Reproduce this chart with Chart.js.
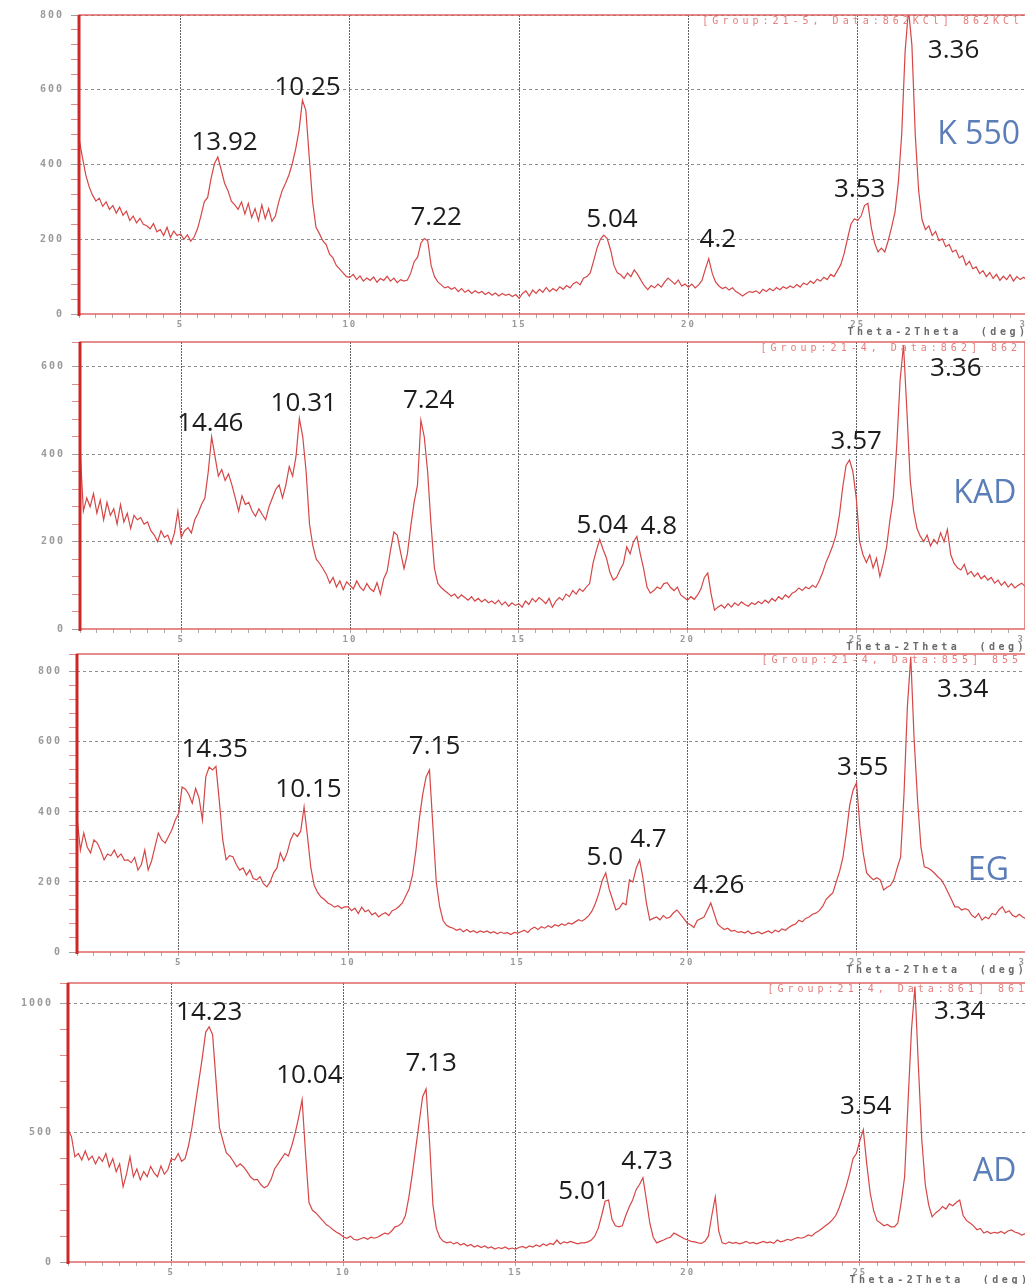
<!DOCTYPE html>
<html>
<head>
<meta charset="utf-8">
<script src="https://cdn.jsdelivr.net/npm/chart.js@4.4.0/dist/chart.umd.min.js"></script>
<style>
  html, body { margin: 0; padding: 0; background: #fff; width: 1025px; height: 1284px; overflow: hidden; }
  canvas { position: absolute; left: 0; }
</style>
</head>
<body>
<canvas id="k550-chart"></canvas>
<canvas id="kad-chart"></canvas>
<canvas id="eg-chart"></canvas>
<canvas id="ad-chart"></canvas>
<script>
// 2theta step scan, 2.0 .. 30.0 deg, 0.1 deg step
const twoTheta = [];
for (let i = 0; i <= 280; i++) {
  twoTheta.push(Math.round((2 + i * 0.1) * 10) / 10);
}

// counts, one row per degree (n.0 .. n.9)
const k550Counts = [
  470, 420, 372, 340, 318, 302, 310, 288, 300, 280,
  290, 270, 286, 264, 275, 250, 262, 244, 256, 240,
  236, 228, 242, 220, 226, 210, 232, 205, 222, 210,
  214, 200, 212, 195, 206, 228, 262, 300, 312, 362,
  402, 420, 386, 350, 330, 302, 292, 280, 300, 268,
  296, 258, 282, 250, 292, 255, 282, 248, 262, 300,
  330, 350, 372, 402, 442, 492, 572, 545, 420, 300,
  232, 215, 196, 186, 160, 150, 130, 120, 110, 100,
  98, 106, 92, 102, 88, 96, 90, 99, 85, 95,
  90, 101, 88, 96, 84, 92, 88, 91, 110, 140,
  152, 190, 202, 196, 130, 100, 86, 78, 70, 73,
  66, 71, 60, 68, 58, 64, 55, 62, 56, 60,
  52, 58, 50, 56, 48, 55, 50, 53, 47, 52,
  42, 55, 62, 48, 64, 55, 66, 58, 71, 60,
  68, 62, 73, 66, 76, 70, 81, 86, 78, 96,
  100, 110, 142, 176, 200, 211, 202, 172, 130, 110,
  105, 95, 110, 100, 118, 106, 90, 75, 65, 76,
  70, 80, 72, 86, 96, 88, 80, 91, 75, 80,
  72, 80, 70, 78, 90, 120, 148, 110, 86, 75,
  68, 72, 64, 70, 60, 55, 48, 55, 60, 58,
  62, 55, 66, 60, 68, 62, 71, 65, 73, 68,
  75, 70, 79, 72, 83, 78, 88, 82, 93, 88,
  98, 92, 106, 100, 116, 132, 162, 202, 240, 255,
  250, 262, 290, 296, 232, 190, 166, 176, 166, 196,
  232, 272, 352, 482, 702, 815, 720, 480, 330, 252,
  226, 236, 210, 221, 196, 201, 180, 186, 166, 171,
  150, 156, 131, 141, 121, 126, 108, 116, 100, 111,
  95, 106, 90, 101, 92, 105, 88, 100, 92, 98,
  90
];

const kadCounts = [
  415, 270, 300, 280, 310, 265, 295, 250, 290, 260,
  275, 240, 285, 245, 265, 230, 260, 250, 255, 240,
  245, 225, 215, 200, 225, 210, 215, 195, 220, 270,
  210, 225, 232, 220, 250, 265, 285, 300, 360, 440,
  395, 350, 365, 340, 355, 330, 300, 270, 305, 285,
  290, 270, 258, 275, 262, 250, 280, 300, 320, 330,
  300, 330, 372, 350, 395, 482, 440, 360, 240, 190,
  160, 150, 138, 125, 105, 118, 96, 110, 90, 108,
  100, 92, 110, 96, 88, 104, 92, 86, 106, 80,
  115, 132, 180, 222, 215, 175, 138, 172, 235, 290,
  330, 478, 440, 360, 240, 140, 105, 95, 88, 82,
  75, 80, 70, 78, 72, 66, 74, 64, 70, 62,
  68, 60, 64, 58, 66, 55, 62, 52, 60, 54,
  58, 50, 64, 56, 70, 62, 72, 66, 58, 70,
  50, 64, 72, 66, 80, 74, 88, 80, 92, 86,
  96, 104, 150, 180, 205, 182, 162, 130, 112, 118,
  135, 150, 188, 172, 200, 212, 172, 138, 96, 82,
  88, 96, 92, 104, 106, 95, 88, 96, 78, 72,
  66, 74, 68, 78, 92, 118, 128, 80, 43, 50,
  55, 48, 58, 50, 60, 54, 62, 56, 52, 60,
  56, 63, 58, 66, 60, 70, 64, 74, 68, 78,
  72, 82, 86, 94, 88, 96, 92, 100, 95, 110,
  128, 152, 170, 190, 215, 260, 325, 375, 387, 360,
  300, 200, 170, 152, 170, 140, 162, 120, 150, 188,
  250, 302, 420, 570, 650, 500, 340, 270, 230, 212,
  200, 215, 190, 205, 195, 220, 200, 228, 170, 150,
  140, 135, 148, 125, 132, 120, 128, 115, 122, 112,
  118, 105, 112, 100, 108, 96, 104, 94, 100, 105,
  98
];

const egCounts = [
  386, 291, 340, 300, 283, 320, 311, 290, 263, 280,
  275, 291, 270, 280, 262, 263, 255, 270, 234, 250,
  291, 234, 260, 300, 340, 320, 311, 330, 349, 377,
  396, 471, 465, 450, 425, 467, 440, 377, 500, 528,
  520, 530, 430, 320, 263, 275, 272, 250, 234, 240,
  220, 234, 210, 206, 215, 195, 186, 200, 226, 240,
  283, 260, 283, 320, 340, 330, 345, 414, 330, 240,
  190, 170, 157, 150, 140, 135, 128, 132, 125, 129,
  129, 118, 125, 110, 128, 115, 120, 106, 112, 100,
  108, 112, 104, 118, 122, 130, 140, 160, 180, 220,
  290, 380, 450, 500, 520, 360, 200, 130, 90, 76,
  71, 68, 62, 66, 58, 64, 57, 61, 55, 60,
  56, 60, 54, 58, 52, 57, 53, 55, 50, 56,
  54, 58, 62, 56, 66, 71, 64, 72, 68, 75,
  70, 78, 74, 80, 76, 83, 80, 86, 92, 88,
  95, 104, 118, 140, 169, 205, 226, 180, 150, 120,
  125, 140, 135, 206, 200, 240, 263, 210, 140, 91,
  96, 100, 92, 104, 96, 100, 112, 120, 108, 96,
  83, 78, 70, 90, 95, 100, 120, 140, 110, 80,
  71, 64, 68, 60, 62, 56, 58, 54, 60, 52,
  54, 58, 52, 56, 60, 54, 62, 58, 66, 62,
  70, 76, 80, 91, 86, 96, 100, 108, 111, 118,
  130, 150, 160, 169, 200, 230, 271, 340, 420, 463,
  483, 357, 280, 226, 215, 206, 212, 206, 177, 185,
  190, 206, 240, 271, 450, 700, 843, 606, 434, 300,
  243, 240, 234, 225, 215, 206, 190, 170, 150, 129,
  129, 120, 124, 120, 105, 98, 110, 91, 100, 95,
  110, 106, 120, 129, 112, 118, 105, 100, 108, 100,
  95
];

const adCounts = [
  512, 486, 407, 420, 395, 430, 395, 410, 380, 407,
  390, 420, 368, 400, 350, 380, 291, 340, 407, 330,
  360, 318, 350, 330, 370, 345, 330, 372, 340, 357,
  400, 395, 420, 390, 400, 450, 520, 610, 700, 790,
  890, 911, 880, 700, 520, 470, 422, 410, 390, 368,
  380, 368, 350, 330, 318, 320, 300, 287, 295, 320,
  360, 380, 400, 420, 410, 450, 500, 560, 628, 420,
  230, 200, 190, 175, 160, 145, 136, 125, 115, 108,
  97, 92, 100, 88, 85, 90, 95, 88, 96, 92,
  97, 104, 112, 108, 120, 136, 140, 151, 180, 250,
  340, 440, 540, 640, 670, 470, 220, 130, 95, 80,
  74, 78, 70, 76, 66, 72, 62, 68, 58, 64,
  56, 62, 54, 58, 50, 56, 52, 58, 50, 54,
  50, 56, 60, 54, 62, 58, 66, 60, 70, 64,
  72, 68, 85, 70, 78, 74, 80, 75, 70, 74,
  74, 78, 85, 100, 130, 180, 235, 240, 165, 140,
  136, 140, 180, 213, 240, 279, 300, 326, 240, 150,
  95, 74, 80, 85, 92, 96, 112, 105, 98, 90,
  85, 80, 78, 74, 72, 80, 100, 180, 252, 120,
  74, 70, 78, 72, 76, 70, 74, 80, 72, 76,
  70, 75, 80, 74, 78, 72, 85, 78, 82, 88,
  84, 90, 95, 92, 97, 105, 100, 112, 120, 130,
  140, 150, 163, 180, 210, 250, 291, 340, 400, 420,
  470, 512, 380, 267, 200, 160, 151, 140, 145, 136,
  136, 150, 230, 330, 620, 900, 1066, 760, 470, 300,
  220, 175, 190, 200, 215, 205, 225, 218, 230, 240,
  180, 160, 151, 140, 125, 130, 112, 118, 110, 115,
  112, 118, 110, 120, 124, 116, 112, 104, 110, 100,
  98
];

// d-spacing labels (Angstrom) written over the peaks
const k550Peaks = ['13.92', '10.25', '7.22', '5.04', '4.2', '3.53', '3.36'];
const kadPeaks = ['14.46', '10.31', '7.24', '5.04', '4.8', '3.57', '3.36'];
const egPeaks = ['14.35', '10.15', '7.15', '5.0', '4.7', '4.26', '3.55', '3.34'];
const adPeaks = ['14.23', '10.04', '7.13', '5.01', '4.73', '3.54', '3.34'];

const sampleNames = ['K 550', 'KAD', 'EG', 'AD'];
const headers = [
  '[Group:21-5, Data:862KCl] 862KCl',
  '[Group:21-4, Data:862] 862',
  '[Group:21-4, Data:855] 855',
  '[Group:21-4, Data:861] 861'
];

// layout of the four stacked panels (page pixels) and label anchors (data units)
const panels = [
  {
    id: 'k550-chart', top: 1, height: 339, width: 1027, axisLeft: 79, yMax: 800, yMajor: 200, yMinor: 40,
    counts: k550Counts, peaks: k550Peaks, name: sampleNames[0], header: headers[0],
    peakTheta: [6.30, 8.75, 12.55, 17.74, 20.87, 25.06, 27.83],
    peakCount: [458, 607, 257, 252, 198, 332, 706],
    nameAt: [28.57, 479]
  },
  {
    id: 'kad-chart', top: 328, height: 327, width: 1025, axisLeft: 80, yMax: 657, yMajor: 200, yMinor: 40,
    counts: kadCounts, peaks: kadPeaks, name: sampleNames[1], header: headers[1],
    peakTheta: [5.86, 8.63, 12.33, 17.47, 19.15, 25.0, 27.95],
    peakCount: [470, 515, 522, 236, 234, 428, 596],
    nameAt: [28.81, 309]
  },
  {
    id: 'eg-chart', top: 640, height: 338, width: 1026, axisLeft: 77, yMax: 851, yMajor: 200, yMinor: 40,
    counts: egCounts, peaks: egPeaks, name: sampleNames[2], header: headers[2],
    peakTheta: [6.06, 8.83, 12.55, 17.57, 18.86, 20.93, 25.18, 28.13],
    peakCount: [577, 463, 586, 269, 320, 191, 526, 749],
    nameAt: [28.89, 231]
  },
  {
    id: 'ad-chart', top: 969, height: 319, width: 1032, axisLeft: 68, yMax: 1080, yMajor: 500, yMinor: 100,
    counts: adCounts, peaks: adPeaks, name: sampleNames[3], header: headers[3],
    peakTheta: [6.10, 9.01, 12.55, 16.99, 18.82, 25.17, 27.90],
    peakCount: [965, 721, 767, 271, 388, 601, 969],
    nameAt: [28.92, 349]
  }
];

const isMultiple = (value, step) => Math.abs(value / step - Math.round(value / step)) < 1e-6;

const xrdDecor = {
  id: 'xrdDecor',
  beforeDraw(chart) {
    chart.ctx.letterSpacing = '2px';
  },
  afterDraw(chart, args, opts) {
    const {ctx, chartArea: area, scales: {x, y}} = chart;
    ctx.save();

    // red frame round the plot, heavier on the intensity axis
    ctx.letterSpacing = '0px';
    ctx.setLineDash([]);
    ctx.strokeStyle = 'rgba(222,96,96,0.9)';
    ctx.lineWidth = 1.6;
    ctx.strokeRect(area.left, area.top, area.right - area.left, area.bottom - area.top);
    ctx.strokeStyle = 'rgb(204,40,40)';
    ctx.lineWidth = 3;
    ctx.beginPath();
    ctx.moveTo(area.left, area.top);
    ctx.lineTo(area.left, area.bottom + 2);
    ctx.stroke();

    // instrument header and axis title
    ctx.font = '10px "DejaVu Sans Mono"';
    ctx.letterSpacing = '4px';
    ctx.fillStyle = 'rgba(226,112,112,0.9)';
    ctx.textAlign = 'right';
    ctx.textBaseline = 'top';
    ctx.fillText(opts.header, area.right - 4, area.top + 1);

    ctx.font = 'bold 10px "DejaVu Sans Mono"';
    ctx.letterSpacing = '3.5px';
    ctx.fillStyle = '#6a6a6a';
    ctx.textAlign = 'left';
    ctx.textBaseline = 'middle';
    ctx.fillText('Theta-2Theta  (deg)', x.getPixelForValue(24.7), area.bottom + 18);

    // peak d-spacings
    ctx.letterSpacing = '0px';
    ctx.font = '26px "Open Sans"';
    ctx.fillStyle = '#1c1c1c';
    ctx.textAlign = 'center';
    opts.peaks.forEach((label, i) => {
      ctx.fillText(label, x.getPixelForValue(opts.peakTheta[i]), y.getPixelForValue(opts.peakCount[i]));
    });

    // sample name
    ctx.font = '32px "Open Sans"';
    ctx.fillStyle = '#5b7db8';
    ctx.fillText(opts.name, x.getPixelForValue(opts.nameAt[0]), y.getPixelForValue(opts.nameAt[1]));

    ctx.restore();
  }
};

const tickFont = {family: '"DejaVu Sans Mono"', size: 10, weight: 'bold'};

function showPanel(panel) {
  const canvas = document.getElementById(panel.id);
  canvas.width = panel.width;
  canvas.height = panel.height;
  canvas.style.top = panel.top + 'px';
  canvas.style.width = panel.width + 'px';
  canvas.style.height = panel.height + 'px';

  new Chart(canvas.getContext('2d'), {
    type: 'line',
    data: {
      datasets: [{
        data: panel.counts.map((count, i) => ({x: twoTheta[i], y: count})),
        borderColor: 'rgb(214,70,70)',
        borderWidth: 1.2,
        pointRadius: 0,
        tension: 0
      }]
    },
    options: {
      responsive: false,
      animation: false,
      devicePixelRatio: 1,
      layout: {
        padding: {top: 14, right: 0, bottom: 0, left: 0}
      },
      scales: {
        x: {
          type: 'linear',
          min: 2,
          max: 30,
          afterFit: scale => {
            scale.height = 26;
            scale.paddingLeft = 0;
            scale.paddingRight = 0;
          },
          ticks: {
            stepSize: 0.5,
            autoSkip: false,
            maxRotation: 0,
            padding: 1,
            color: '#9a9a9a',
            font: {...tickFont, size: 9},
            callback: value => (isMultiple(value, 5) ? String(value) : '')
          },
          grid: {
            color: ctx => (ctx.tick && isMultiple(ctx.tick.value, 5) && ctx.tick.value > 2 && ctx.tick.value < 30
              ? 'rgba(70,70,70,0.85)' : 'rgba(0,0,0,0)'),
            tickColor: 'rgba(150,150,150,0.8)',
            tickLength: 4,
            lineWidth: 1
          },
          border: {display: false, dash: [2, 1]}
        },
        y: {
          min: 0,
          max: panel.yMax,
          afterFit: scale => {
            scale.width = panel.axisLeft;
            scale.paddingTop = 0;
            scale.paddingBottom = 0;
          },
          ticks: {
            stepSize: panel.yMinor,
            autoSkip: false,
            padding: 7,
            color: '#9a9a9a',
            font: tickFont,
            callback: value => (isMultiple(value, panel.yMajor) ? String(value) : '')
          },
          grid: {
            color: ctx => (ctx.tick && isMultiple(ctx.tick.value, panel.yMajor) && ctx.tick.value > 0
              ? 'rgba(120,120,120,0.85)' : 'rgba(0,0,0,0)'),
            tickColor: ctx => (ctx.tick && isMultiple(ctx.tick.value, panel.yMajor)
              ? 'rgba(150,150,150,0.9)' : 'rgba(210,90,90,0.7)'),
            tickLength: 8,
            lineWidth: 1
          },
          border: {display: false, dash: [3, 3]}
        }
      },
      plugins: {
        legend: {display: false},
        tooltip: {enabled: false},
        xrdDecor: {
          header: panel.header,
          name: panel.name,
          peaks: panel.peaks,
          peakTheta: panel.peakTheta,
          peakCount: panel.peakCount,
          nameAt: panel.nameAt
        }
      }
    },
    plugins: [xrdDecor]
  });
}

panels.forEach(showPanel);
</script>
</body>
</html>
